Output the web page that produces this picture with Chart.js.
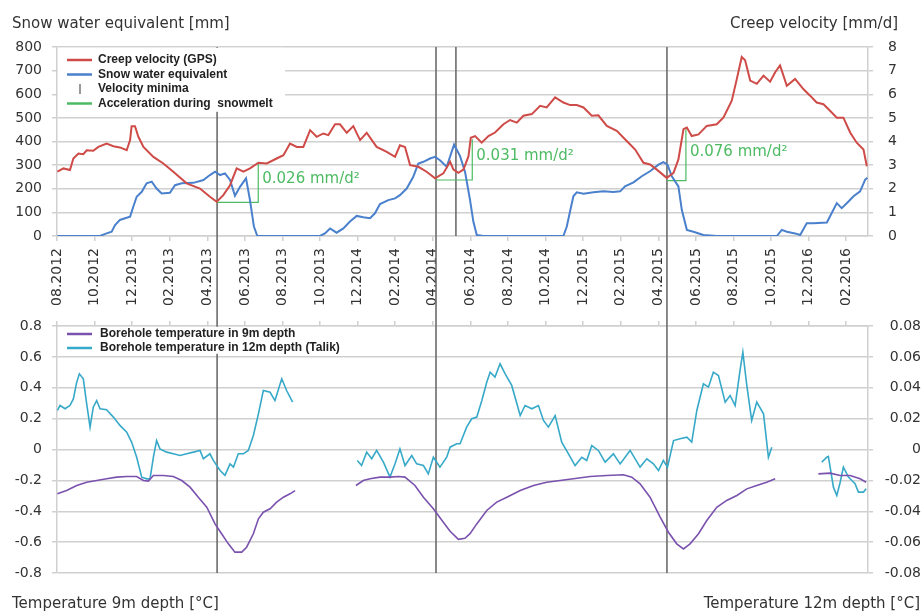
<!DOCTYPE html>
<html>
<head>
<meta charset="utf-8">
<title>Creep velocity, snow water equivalent and borehole temperature</title>
<script src="https://cdn.jsdelivr.net/npm/chart.js@4.4.1/dist/chart.umd.min.js"></script>
<style>
  html, body { margin: 0; padding: 0; background: #fff; }
  #wrap { position: relative; width: 924px; height: 613px; overflow: hidden;
          font-family: "DejaVu Sans", sans-serif; color: #333; }
  canvas { position: absolute; left: 0; }
  #c-top { top: 0; }
  #c-bot { top: 318px; }
  .ttl { position: absolute; font-size: 15px; line-height: 18px; white-space: nowrap; }
</style>
</head>
<body>
<div id="wrap">
  <canvas id="c-top" width="924" height="318"></canvas>
  <canvas id="c-bot" width="924" height="295"></canvas>
  <div class="ttl" style="left:12px; top:14px">Snow water equivalent [mm]</div>
  <div class="ttl" style="right:26px; top:14px">Creep velocity [mm/d]</div>
  <div class="ttl" style="left:12px; top:594px">Temperature 9m depth [°C]</div>
  <div class="ttl" style="right:4px; top:594px">Temperature 12m depth [°C]</div>
</div>
<script>
// x values = months since 08.2012
const tickLabels = ['08.2012', '10.2012', '12.2013', '02.2013', '04.2013', '06.2013', '08.2013',
  '10.2013', '12.2014', '02.2014', '04.2014', '06.2014', '08.2014', '10.2014', '12.2015', '02.2015',
  '04.2015', '06.2015', '08.2015', '10.2015', '12.2016', '02.2016'];
const monthMax = 43.16;

// creep velocity (GPS) [mm/d]
const creepMonths = [0.02, 0.34, 0.69, 0.87, 1.14, 1.40, 1.58, 1.93, 2.20, 2.64,
  3.00, 3.35, 3.71, 3.89, 3.97, 4.15, 4.33, 4.60, 5.13, 5.66,
  6.19, 6.90, 7.61, 8.14, 8.50, 8.85, 9.21, 9.56, 9.92, 10.27,
  10.72, 11.16, 11.69, 12.05, 12.40, 12.76, 13.11, 13.47, 13.82, 14.17,
  14.44, 14.80, 15.06, 15.42, 15.77, 16.13, 16.48, 17.01, 17.55, 17.99,
  18.25, 18.52, 18.79, 19.23, 19.67, 20.12, 20.56, 20.92, 21.10, 21.36,
  21.63, 21.90, 22.02, 22.25, 22.60, 22.96, 23.31, 23.76, 24.11, 24.47,
  24.82, 25.27, 25.71, 26.06, 26.51, 26.95, 27.31, 27.66, 28.02, 28.46,
  28.81, 29.26, 29.79, 30.32, 30.77, 31.21, 31.56, 31.92, 32.45, 32.81,
  33.07, 33.34, 33.52, 33.78, 34.14, 34.58, 35.11, 35.47, 35.91, 36.18,
  36.44, 36.62, 36.89, 37.24, 37.60, 37.95, 38.22, 38.48, 38.84, 39.28,
  39.72, 40.08, 40.43, 40.79, 41.14, 41.50, 41.85, 42.21, 42.56, 42.92, 43.10];
const creepValues = [2.72, 2.86, 2.79, 3.28, 3.49, 3.46, 3.63, 3.61, 3.77, 3.91,
  3.80, 3.75, 3.63, 4.06, 4.65, 4.65, 4.20, 3.77, 3.35, 3.07,
  2.72, 2.23, 2.01, 1.66, 1.45, 1.73, 2.15, 2.86, 2.72, 2.86,
  3.10, 3.07, 3.28, 3.42, 3.91, 3.77, 3.77, 4.48, 4.20, 4.34,
  4.27, 4.73, 4.73, 4.37, 4.65, 4.06, 4.37, 3.77, 3.56, 3.35,
  3.84, 3.77, 3.00, 2.93, 2.72, 2.44, 2.65, 3.14, 2.81, 2.67,
  2.81, 3.38, 4.16, 4.23, 3.95, 4.23, 4.38, 4.73, 4.91, 4.80,
  5.09, 5.16, 5.51, 5.44, 5.87, 5.65, 5.54, 5.54, 5.44, 5.09,
  5.11, 4.66, 4.45, 4.02, 3.66, 3.10, 3.03, 2.81, 2.46, 2.67,
  3.24, 4.52, 4.59, 4.23, 4.30, 4.66, 4.73, 5.02, 5.73, 6.65,
  7.58, 7.44, 6.58, 6.44, 6.79, 6.53, 6.93, 7.22, 6.36, 6.65,
  6.22, 5.94, 5.65, 5.58, 5.30, 5.01, 5.01, 4.38, 3.95, 3.66, 2.95];

// snow water equivalent [mm]
const sweMonths = [0.02, 1.22, 2.29, 2.64, 2.91, 3.09, 3.35, 3.62, 3.89, 4.06,
  4.24, 4.51, 4.77, 5.04, 5.30, 5.57, 6.01, 6.28, 6.64, 7.26,
  7.79, 8.14, 8.41, 8.68, 8.94, 9.21, 9.47, 9.74, 10.06, 10.27,
  10.48, 10.66, 14.00, 14.26, 14.53, 14.88, 15.24, 15.59, 15.95, 16.30,
  16.66, 16.92, 17.19, 17.63, 17.99, 18.25, 18.61, 18.96, 19.23, 19.50,
  19.85, 20.12, 20.38, 20.74, 21.13, 21.45, 21.72, 21.98, 22.16, 22.34,
  22.69, 26.95, 27.13, 27.48, 27.66, 28.02, 28.55, 29.08, 29.61, 29.97,
  30.23, 30.68, 31.12, 31.56, 32.01, 32.27, 32.49, 32.72, 33.07, 33.25,
  33.52, 33.87, 34.40, 35.11, 38.31, 38.57, 38.84, 39.28, 39.55, 39.90,
  40.26, 40.97, 41.23, 41.50, 41.76, 42.03, 42.39, 42.74, 43.01, 43.13];
const sweValues = [0, 0, 0, 11, 18, 46, 68, 75, 82, 124,
  166, 187, 223, 230, 201, 180, 183, 215, 223, 225,
  237, 258, 272, 258, 265, 237, 170, 208, 244, 152,
  40, 0, 0, 11, 32, 14, 32, 61, 85, 79,
  75, 96, 135, 152, 159, 173, 201, 251, 307, 314,
  328, 335, 321, 293, 387, 338, 270, 153, 60, 4,
  0, 0, 40, 168, 185, 179, 185, 189, 186, 189,
  210, 227, 253, 274, 302, 313, 302, 253, 210, 111,
  26, 18, 4, 0, 0, 26, 18, 11, 4, 54,
  54, 57, 97, 139, 118, 139, 168, 189, 239, 246];

// velocity minima and acceleration during snowmelt
const minimaMonths = [8.52, 20.17, 21.23, 32.46];
const minimaAcross = [true, true, false, true];
const accelStart = [8.52, 20.17, 32.46];
const accelEnd = [10.71, 22.10, 33.47];
const accelLow = [1.42, 2.37, 2.34];
const accelHigh = [3.10, 4.10, 4.52];
const accelRates = ['0.026 mm/d²', '0.031 mm/d²', '0.076 mm/d²'];

// borehole temperature in 9m depth [°C] (null = no data)
const t9Months = [0.02, 0.51, 1.05, 1.58, 2.11, 2.64, 3.18, 3.71, 4.24, 4.60,
  4.86, 5.13, 5.66, 6.19, 6.64, 7.08, 7.52, 7.97, 8.41, 8.76,
  9.12, 9.47, 9.83, 10.09, 10.45, 10.72, 10.98, 11.34, 11.69, 12.05,
  12.40, 12.67, 14.00,
  15.91, 16.30, 16.66, 17.19, 17.72, 18.17, 18.52, 19.05, 19.50, 20.03,
  20.56, 20.92, 21.36, 21.71, 21.98, 22.34, 22.87, 23.40, 23.94, 24.65,
  25.36, 26.06, 26.77, 27.48, 28.37, 29.26, 30.14, 30.59, 31.03, 31.56,
  32.10, 32.54, 32.98, 33.34, 33.69, 34.14, 34.58, 35.11, 35.64, 36.18,
  36.71, 37.24, 37.77, 38.22, 39.00,
  40.52, 41.14, 41.68, 42.21, 42.74, 43.06];
const t9Values = [-0.287, -0.266, -0.233, -0.212, -0.201, -0.190, -0.179, -0.175, -0.175, -0.201,
  -0.205, -0.168, -0.168, -0.175, -0.201, -0.244, -0.309, -0.374, -0.482, -0.546,
  -0.611, -0.665, -0.665, -0.633, -0.546, -0.449, -0.406, -0.384, -0.341, -0.309,
  -0.287, -0.266, null,
  -0.233, -0.201, -0.190, -0.179, -0.179, -0.175, -0.179, -0.233, -0.309, -0.384,
  -0.471, -0.530, -0.582, -0.575, -0.545, -0.482, -0.395, -0.341, -0.309, -0.266,
  -0.233, -0.212, -0.201, -0.190, -0.175, -0.168, -0.164, -0.179, -0.222, -0.309,
  -0.438, -0.536, -0.611, -0.644, -0.611, -0.546, -0.460, -0.374, -0.330, -0.298,
  -0.255, -0.233, -0.212, -0.190, null,
  -0.158, -0.153, -0.168, -0.168, -0.190, -0.212];

// borehole temperature in 12m depth (Talik) [°C] (null = no data)
const t12Months = [0.02, 0.16, 0.43, 0.69, 0.87, 1.05, 1.19, 1.40, 1.58, 1.76,
  1.93, 2.11, 2.29, 2.64, 3.00, 3.35, 3.71, 3.97, 4.24, 4.51,
  4.77, 4.95, 5.13, 5.30, 5.48, 5.84, 6.19, 6.55, 6.90, 7.26,
  7.61, 7.79, 8.14, 8.32, 8.68, 8.94, 9.21, 9.39, 9.65, 9.92,
  10.18, 10.45, 10.72, 10.98, 11.34, 11.60, 11.96, 12.22, 12.54, 14.00,
  15.98, 16.21, 16.48, 16.75, 17.01, 17.37, 17.72, 17.99, 18.25, 18.52,
  18.88, 19.14, 19.50, 19.76, 20.03, 20.38, 20.74, 20.92, 21.27, 21.45,
  21.80, 22.07, 22.34, 22.61, 22.87, 23.05, 23.31, 23.58, 23.85, 24.20,
  24.65, 24.91, 25.27, 25.62, 25.89, 26.15, 26.51, 26.86, 27.22, 27.57,
  27.93, 28.19, 28.46, 28.81, 29.17, 29.61, 29.97, 30.50, 31.03, 31.39,
  31.74, 32.01, 32.27, 32.49, 32.81, 33.16, 33.52, 33.78, 34.05, 34.40,
  34.67, 34.93, 35.20, 35.56, 35.82, 36.09, 36.35, 36.50, 36.71, 36.97,
  37.24, 37.60, 37.86, 38.04, 39.00,
  40.70, 40.97, 41.05, 41.32, 41.50, 41.68, 41.85, 42.12, 42.30, 42.47, 42.65, 42.92, 43.06];
const t12Values = [0.0253, 0.0285, 0.0264, 0.0285, 0.0328, 0.0436, 0.0490, 0.0458, 0.0296, 0.0145,
  0.0274, 0.0317, 0.0264, 0.0257, 0.0210, 0.0156, 0.0112, 0.0048, -0.0050, -0.0179,
  -0.0190, -0.0190, -0.0050, 0.0058, 0.0004, -0.0017, -0.0028, -0.0039, -0.0028, -0.0017,
  -0.0006, -0.0060, -0.0028, -0.0071, -0.0136, -0.0168, -0.0093, -0.0114, -0.0028, -0.0028,
  -0.0006, 0.0091, 0.0231, 0.0382, 0.0371, 0.0317, 0.0458, 0.0382, 0.0307, null,
  -0.0071, -0.0104, -0.0017, -0.0060, -0.0006, -0.0082, -0.0179, -0.0093, 0.0004, -0.0104,
  -0.0039, -0.0093, -0.0104, -0.0158, -0.0050, -0.0114, -0.0050, 0.0015, 0.0037, 0.0037,
  0.0145, 0.0199, 0.0210, 0.0317, 0.0436, 0.0501, 0.0469, 0.0555, 0.0490, 0.0415,
  0.0220, 0.0285, 0.0264, 0.0285, 0.0188, 0.0145, 0.0220, 0.0048, -0.0028, -0.0104,
  -0.0050, -0.0071, 0.0026, -0.0006, -0.0082, -0.0028, -0.0093, -0.0006, -0.0114, -0.0060,
  -0.0093, -0.0136, -0.0071, -0.0114, 0.0058, 0.0069, 0.0080, 0.0048, 0.0253, 0.0425,
  0.0404, 0.0501, 0.0479, 0.0307, 0.0350, 0.0285, 0.0512, 0.0631, 0.0415, 0.0188,
  0.0307, 0.0231, -0.0050, 0.0015, null,
  -0.0082, -0.0050, -0.0045, -0.0244, -0.0298, -0.0212, -0.0114, -0.0179, -0.0201, -0.0222, -0.0276, -0.0276, -0.0255];

const RED = '#cf4b48', BLUE = '#4a80cc', GREEN = '#4dbb63', PURPLE = '#7a52ae', CYAN = '#37a9c8';
const GRID = '#d0d0d0';
const TICK_FONT = { family: '"DejaVu Sans", sans-serif', size: 14 };

Chart.defaults.font.family = '"DejaVu Sans", sans-serif';
Chart.defaults.color = '#333';

function pts(months, values) {
  return months.map((m, i) => ({ x: m, y: values[i] }));
}

function accelPts() {
  const out = [];
  accelStart.forEach((s, i) => {
    out.push({ x: s, y: accelLow[i] }, { x: accelEnd[i], y: accelLow[i] },
             { x: accelEnd[i], y: accelHigh[i] }, { x: accelEnd[i], y: null });
  });
  return out;
}

// no label padding from the y axes, we place the areas ourselves
function fixWidth(w) {
  return s => { s.width = w; s.paddingTop = 0; s.paddingBottom = 0; };
}

function xAxis(pos, showLabels, h) {
  return {
    type: 'linear', position: pos, min: 0, max: monthMax,
    afterBuildTicks: s => { s.ticks = tickLabels.map((_, i) => ({ value: i * 2 })); },
    afterFit: s => { s.height = h; s.paddingLeft = 0; s.paddingRight = 0; },
    ticks: {
      display: showLabels, autoSkip: false, minRotation: 90, maxRotation: 90, padding: 7,
      font: TICK_FONT, color: '#333',
      callback: (v, i) => tickLabels[i]
    },
    grid: { drawOnChartArea: false, color: GRID, lineWidth: 1.5, tickLength: 5 },
    border: { color: GRID, width: 1.5 }
  };
}

// vertical lines at the velocity minima
const minimaLines = {
  id: 'minimaLines',
  beforeDatasetsDraw(chart, args, o) {
    const { ctx, chartArea: a, scales: { x } } = chart;
    ctx.save();
    ctx.strokeStyle = '#6c6c6c';
    ctx.lineWidth = 1.6;
    minimaMonths.forEach((m, i) => {
      if (o.panel === 'bottom' && !minimaAcross[i]) return;
      const px = x.getPixelForValue(m);
      const y1 = o.panel === 'top' ? a.top : 0;
      const y2 = o.panel === 'top' && minimaAcross[i] ? chart.height : a.bottom;
      ctx.beginPath();
      ctx.moveTo(px, y1);
      ctx.lineTo(px, y2);
      ctx.stroke();
    });
    ctx.restore();
  }
};

// legend drawn inside the plot, on a white box
const boxLegend = {
  id: 'boxLegend',
  afterDatasetsDraw(chart, args, o) {
    const { ctx, chartArea: a } = chart;
    ctx.save();
    ctx.fillStyle = '#fff';
    ctx.fillRect(a.left + 1, a.top + 0.8, o.w, o.h);
    ctx.font = 'bold 12px "Liberation Sans", Arial, sans-serif';
    ctx.textBaseline = 'middle';
    o.items.forEach((it, i) => {
      const y = a.top + o.y0 + i * o.dy;
      ctx.strokeStyle = it.color;
      ctx.lineWidth = it.tick ? 1.2 : 2.5;
      ctx.beginPath();
      if (it.tick) {
        ctx.moveTo(a.left + 23, y - 5);
        ctx.lineTo(a.left + 23, y + 5);
      } else {
        ctx.moveTo(a.left + 10, y);
        ctx.lineTo(a.left + 35, y);
      }
      ctx.stroke();
      ctx.fillStyle = '#222';
      ctx.fillText(it.label, a.left + o.tx, y);
    });
    ctx.restore();
  }
};

const accelLabels = {
  id: 'accelLabels',
  afterDatasetsDraw(chart) {
    const { ctx, scales } = chart;
    ctx.save();
    ctx.fillStyle = GREEN;
    ctx.font = '15px "DejaVu Sans", sans-serif';
    ctx.textBaseline = 'middle';
    accelRates.forEach((t, i) => {
      const px = scales.x.getPixelForValue(accelEnd[i]) + 4;
      const py = scales.yVel.getPixelForValue((accelLow[i] + accelHigh[i]) / 2) - 3;
      ctx.fillText(t, px, py);
    });
    ctx.restore();
  }
};

const topSets = [
  { label: 'Creep velocity (GPS)', data: pts(creepMonths, creepValues), yAxisID: 'yVel',
    borderColor: RED, borderWidth: 2 },
  { label: 'Snow water equivalent', data: pts(sweMonths, sweValues), yAxisID: 'ySwe',
    borderColor: BLUE, borderWidth: 2 },
  { label: 'Acceleration during  snowmelt', data: accelPts(), yAxisID: 'yVel',
    borderColor: GREEN, borderWidth: 1.2 }
];

new Chart(document.getElementById('c-top'), {
  type: 'line',
  data: { datasets: topSets },
  options: {
    responsive: false, animation: false, events: [],
    layout: { padding: { top: 47, bottom: 0, left: 0, right: 0 } },
    elements: { point: { radius: 0 }, line: { tension: 0 } },
    scales: {
      x: xAxis('bottom', true, 82),
      ySwe: {
        position: 'left', min: 0, max: 800,
        ticks: { stepSize: 100, padding: 10, font: TICK_FONT, color: '#333' },
        grid: { color: GRID, lineWidth: 1.5, tickLength: 5 },
        border: { color: GRID, width: 1.5 },
        afterFit: fixWidth(57)
      },
      yVel: {
        position: 'right', min: 0, max: 8,
        ticks: { stepSize: 1, padding: 15, font: TICK_FONT, color: '#333' },
        grid: { drawOnChartArea: false, color: GRID, lineWidth: 1.5, tickLength: 5 },
        border: { color: GRID, width: 1.5 },
        afterFit: fixWidth(56)
      }
    },
    plugins: {
      legend: { display: false }, tooltip: { enabled: false },
      minimaLines: { panel: 'top' },
      boxLegend: {
        w: 227, h: 64, y0: 13, dy: 14.5, tx: 41,
        items: [
          { label: topSets[0].label, color: RED },
          { label: topSets[1].label, color: BLUE },
          { label: 'Velocity minima', color: '#555', tick: true },
          { label: topSets[2].label, color: GREEN }
        ]
      }
    }
  },
  plugins: [minimaLines, accelLabels, boxLegend]
});

const botSets = [
  { label: 'Borehole temperature in 9m depth', data: pts(t9Months, t9Values), yAxisID: 'yT9',
    borderColor: PURPLE, borderWidth: 1.6 },
  { label: 'Borehole temperature in 12m depth (Talik)', data: pts(t12Months, t12Values), yAxisID: 'yT12',
    borderColor: CYAN, borderWidth: 1.6 }
];

new Chart(document.getElementById('c-bot'), {
  type: 'line',
  data: { datasets: botSets },
  options: {
    responsive: false, animation: false, events: [],
    layout: { padding: { top: 0, bottom: 40, left: 0, right: 3 } },
    elements: { point: { radius: 0 }, line: { tension: 0 } },
    scales: {
      x: xAxis('top', false, 8),
      yT9: {
        position: 'left', min: -0.8, max: 0.8,
        ticks: { stepSize: 0.2, padding: 10, font: TICK_FONT, color: '#333',
                 callback: v => String(Math.round(v * 10) / 10) },
        grid: { color: GRID, lineWidth: 1.5, tickLength: 5 },
        border: { color: GRID, width: 1.5 },
        afterFit: fixWidth(57)
      },
      yT12: {
        position: 'right', min: -0.08, max: 0.08,
        ticks: { stepSize: 0.02, padding: 10, crossAlign: 'far', font: TICK_FONT, color: '#333',
                 callback: v => String(Math.round(v * 100) / 100) },
        grid: { drawOnChartArea: false, color: GRID, lineWidth: 1.5, tickLength: 5 },
        border: { color: GRID, width: 1.5 },
        afterFit: fixWidth(53)
      }
    },
    plugins: {
      legend: { display: false }, tooltip: { enabled: false },
      minimaLines: { panel: 'bottom' },
      boxLegend: {
        w: 295, h: 27, y0: 8, dy: 14, tx: 43,
        items: [
          { label: botSets[0].label, color: PURPLE },
          { label: botSets[1].label, color: CYAN }
        ]
      }
    }
  },
  plugins: [minimaLines, boxLegend]
});
</script>
</body>
</html>
